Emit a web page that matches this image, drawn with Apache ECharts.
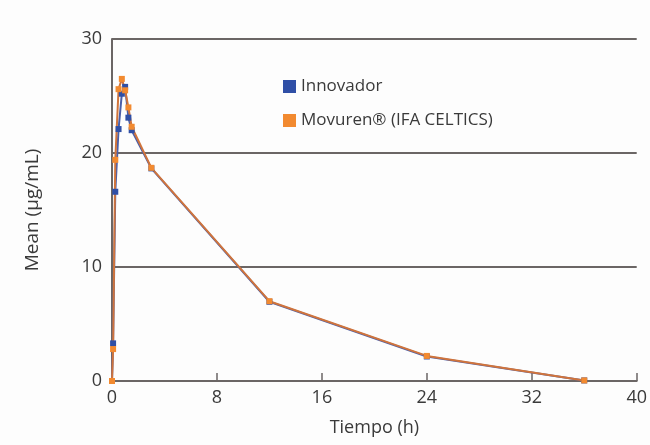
<!DOCTYPE html>
<html>
<head>
<meta charset="utf-8">
<script src="https://cdn.jsdelivr.net/npm/echarts@6/dist/echarts.min.js"></script>
<style>
  html, body { margin: 0; padding: 0; background: #fdfdfd; }
  #chart { width: 650px; height: 445px; }
</style>
</head>
<body>
<div id="chart"></div>
<script>
// sampling times (h)
const times = [0, 0.083, 0.25, 0.5, 0.75, 1, 1.25, 1.5, 3, 12, 24, 36];

// mean concentrations (ug/mL)
const innovador = [0, 3.3, 16.6, 22.1, 25.2, 25.8, 23.1, 22.0, 18.65, 6.95, 2.15, 0.05];
const movuren = [0, 2.8, 19.4, 25.6, 26.5, 25.5, 24.0, 22.3, 18.7, 7.0, 2.2, 0.05];

const xTicks = [0, 8, 16, 24, 32, 40];
const yTicks = [0, 10, 20, 30];

const font = '"Open Sans", "DejaVu Sans", sans-serif';

function pairs(values) {
  return times.map((t, i) => [t, values[i]]);
}

const chart = echarts.init(document.getElementById('chart'), null, {renderer: 'canvas'});

chart.setOption({
  backgroundColor: '#fdfdfd',
  animation: false,
  grid: {left: 112, right: 9, top: 39, bottom: 64},
  legend: {
    orient: 'vertical',
    left: 278,
    top: 73,
    itemWidth: 13,
    itemHeight: 13,
    itemGap: 17,
    icon: 'rect',
    textStyle: {fontFamily: font, fontSize: 17, color: '#3a3a3a'},
    data: ['Innovador', 'Movuren® (IFA CELTICS)']
  },
  xAxis: {
    type: 'value',
    min: xTicks[0],
    max: xTicks[xTicks.length - 1],
    interval: 8,
    name: 'Tiempo (h)',
    nameLocation: 'middle',
    nameGap: 38,
    nameTextStyle: {fontFamily: font, fontSize: 18, color: '#3a3a3a'},
    axisLine: {show: true, lineStyle: {color: '#6b6665', width: 2}},
    axisTick: {show: true, inside: true, length: 8, lineStyle: {color: '#6b6665', width: 1.5}},
    axisLabel: {fontFamily: font, fontSize: 18, color: '#3a3a3a', margin: 8},
    splitLine: {show: false}
  },
  yAxis: {
    type: 'value',
    min: yTicks[0],
    max: yTicks[yTicks.length - 1],
    interval: 10,
    name: 'Mean (µg/mL)',
    nameLocation: 'middle',
    nameGap: 70,
    nameRotate: 90,
    nameTextStyle: {fontFamily: font, fontSize: 19, color: '#3a3a3a'},
    axisLine: {show: true, lineStyle: {color: '#6b6665', width: 2}},
    axisTick: {show: false},
    axisLabel: {fontFamily: font, fontSize: 18, color: '#3a3a3a', margin: 10},
    splitLine: {show: true, lineStyle: {color: '#6b6665', width: 2}}
  },
  series: [
    {
      name: 'Innovador',
      type: 'line',
      data: pairs(innovador),
      symbol: 'rect',
      symbolSize: 6,
      color: '#2f4fa6',
      lineStyle: {color: '#4a5ea8', width: 2},
      itemStyle: {color: '#2f4fa6'}
    },
    {
      name: 'Movuren® (IFA CELTICS)',
      type: 'line',
      data: pairs(movuren),
      symbol: 'rect',
      symbolSize: 6,
      color: '#f28a30',
      lineStyle: {color: '#d0743c', width: 2},
      itemStyle: {color: '#f28a30'}
    }
  ]
});
</script>
</body>
</html>
